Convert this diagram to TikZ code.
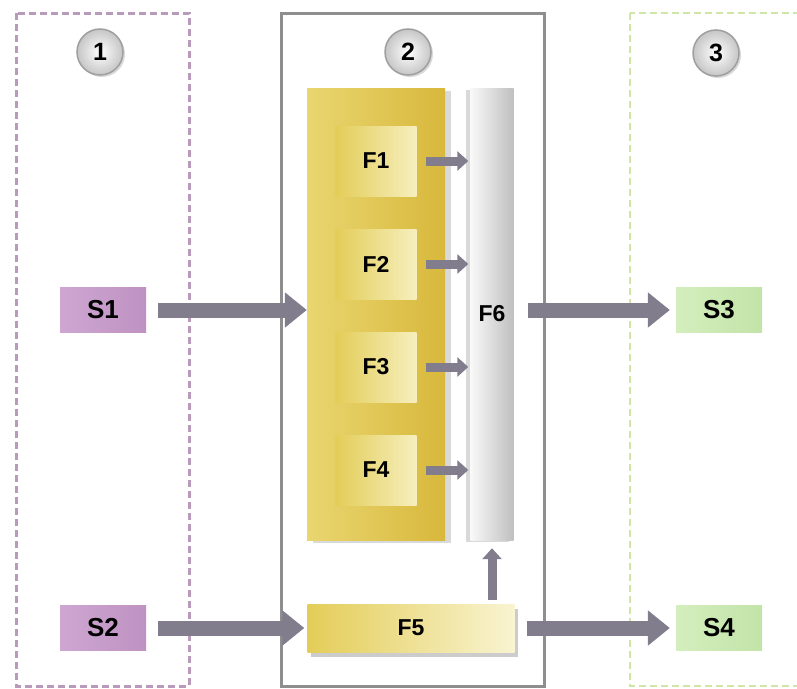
\documentclass[tikz,border=0pt]{standalone}
\usepackage{fontspec}
\setmainfont{Liberation Sans}
\usepackage{tikz}
\usetikzlibrary{shapes,arrows.meta,backgrounds,shadows}
\usetikzlibrary{positioning, shapes.geometric}

\definecolor{zonepurple}{HTML}{B89BBA}
\definecolor{zonegreen}{HTML}{CFE6A6}
\definecolor{zonegray}{HTML}{8E8E8E}
\definecolor{flowgray}{HTML}{827D8D}
\definecolor{sysA}{HTML}{CFA6D2}
\definecolor{sysB}{HTML}{BE92C2}
\definecolor{sysC}{HTML}{D4EEBE}
\definecolor{sysD}{HTML}{C2E4A8}
\definecolor{goldA}{HTML}{E3CD58}
\definecolor{goldB}{HTML}{F6EFBE}
\definecolor{goldC}{HTML}{D8B83C}
\definecolor{goldD}{HTML}{F1E6A8}
\definecolor{goldE}{HTML}{E9D670}

\begin{document}
\begin{tikzpicture}[x=1pt,y=-1pt]
  \tikzstyle{every node}=[font=\bfseries\fontsize{23}{27}\selectfont, inner sep=0pt]
  \tikzstyle{system}=[rectangle, minimum width=86pt, minimum height=45pt, font=\bfseries\fontsize{26}{30}\selectfont]
  \tikzstyle{fbox}=[rectangle, minimum width=81pt, minimum height=70pt, left color=goldA, right color=goldB]
  \tikzstyle{marker}=[circle, minimum size=46pt, inner color=white, outer color=gray!45, draw=gray!75, line width=1.5pt,
                      font=\bfseries\fontsize{25}{28}\selectfont,
                      drop shadow={shadow xshift=2pt, shadow yshift=-2pt, opacity=.3}]
  \useasboundingbox (0,0) rectangle (797,688);

  % Zones
  \draw[zonepurple, line width=3pt, dash pattern=on 7pt off 4pt] (16,13) rectangle (189,686);
  \draw[zonegray, line width=3pt] (281,13) rectangle (544,686);
  \draw[zonegreen, line width=2.4pt, dash pattern=on 7pt off 4pt] (630,13) rectangle (812,686);

  \node[marker] (One) at (100,52) {1};
  \node[marker] (Two) at (408,52) {2};
  \node[marker] (Three) at (716,53) {3};

  % Specification of nodes (position, etc.)
  \node[rectangle, minimum width=138pt, minimum height=452pt, left color=goldE, middle color=goldD, right color=goldC,
        drop shadow={shadow xshift=6pt, shadow yshift=-3pt, opacity=.3}] (Panel) at (376,314) {};
  \node[fbox] (F1) at (376,161) {F1};
  \node[fbox] (F2) at (376,264) {F2};
  \node[fbox] (F3) at (376,367) {F3};
  \node[fbox] (F4) at (376,470) {F4};
  \node[rectangle, minimum width=43pt, minimum height=452pt, left color=white!95!gray, right color=gray!50,
        drop shadow={shadow xshift=-5pt, shadow yshift=-2pt, opacity=.3}] (F6) at (492,314) {F6};
  \node[rectangle, minimum width=207pt, minimum height=48pt, left color=goldA, right color=goldB!70!white,
        drop shadow={shadow xshift=3pt, shadow yshift=-5pt, opacity=.4}] (F5) at (411,628) {F5};

  \node[system, left color=sysA, right color=sysB] (S1) at (103,310) {S1};
  \node[system, left color=sysA, right color=sysB] (S2) at (103,628) {S2};
  \node[system, left color=sysC, right color=sysD] (S3) at (719,310) {S3};
  \node[system, left color=sysC, right color=sysD] (S4) at (719,628) {S4};

  \begin{scope}[draw=flowgray, line width=15pt, -{Triangle[length=22pt, width=34pt]}]
    \draw[shorten <=12pt] (S1) -- (S1 -| Panel.west);
    \draw[shorten <=14pt, shorten >=6pt] (F6.east |- S3) -- (S3);
    \draw[shorten <=12pt, shorten >=3pt] (S2) -- (F5);
    \draw[shorten <=12pt, shorten >=6pt] (F5) -- (S4);
  \end{scope}

  \begin{scope}[draw=flowgray, line width=9pt, -{Triangle[length=11pt, width=19pt]}]
    \foreach \f in {F1,F2,F3,F4}
      \draw[shorten <=9pt, shorten >=2pt] (\f.east) -- (\f.east -| F6.west);
    \draw[shorten <=4pt, shorten >=8pt] (F5.north -| F6) -- (F6.south);
  \end{scope}
\end{tikzpicture}
\end{document}
